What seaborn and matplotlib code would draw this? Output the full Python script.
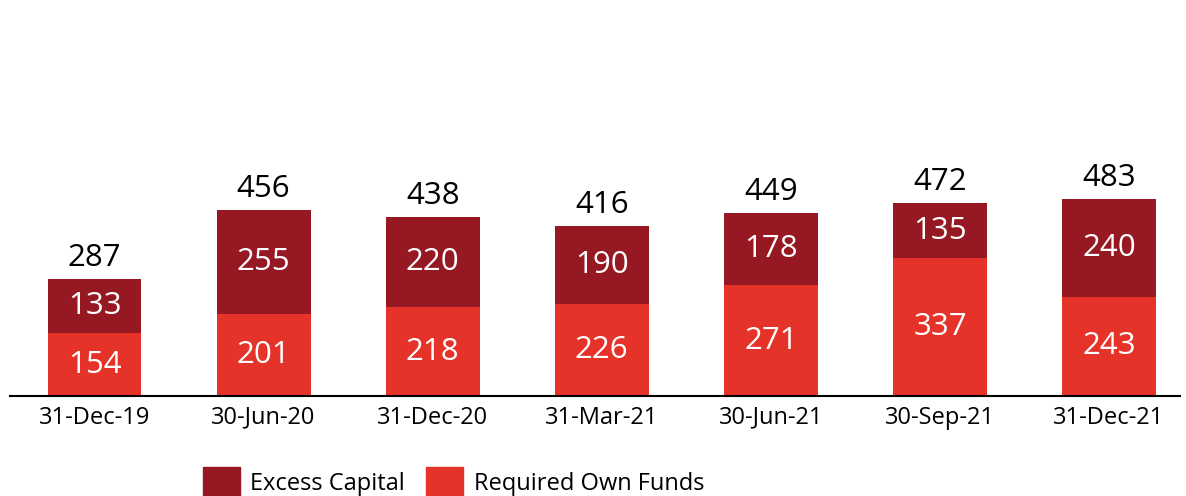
import seaborn as sns
import pandas as pd
import numpy as np
import matplotlib.pyplot as plt
from matplotlib.patches import Patch

dates = ['31-Dec-19', '30-Jun-20', '31-Dec-20', '31-Mar-21', '30-Jun-21', '30-Sep-21', '31-Dec-21']
required = [154, 201, 218, 226, 271, 337, 243]
excess = [133, 255, 220, 190, 178, 135, 240]
totals = [287, 456, 438, 416, 449, 472, 483]

c_exc = '#961822'
c_req = '#E5332A'

df = pd.DataFrame({'date': dates, 'required': required, 'excess': excess, 'total': totals})

sns.set_style('white')
plt.rcParams['font.family'] = ['Open Sans', 'DejaVu Sans']

fig = plt.figure(figsize=(11.86, 4.96), dpi=100)
ax = fig.add_axes([10 / 1186, 100 / 496, 1170 / 1186, 396 / 496])

# stacked look: full total in dark red, required drawn over it
sns.barplot(data=df, x='date', y='total', color=c_exc, width=0.555, saturation=1,
            linewidth=0, ax=ax)
sns.barplot(data=df, x='date', y='required', color=c_req, width=0.555, saturation=1,
            linewidth=0, ax=ax)

for i, r in df.iterrows():
    ax.text(i, r['required'] / 2, str(r['required']), ha='center', va='center',
            color='white', fontsize=22.5)
    ax.text(i, r['required'] + r['excess'] / 2, str(r['excess']), ha='center', va='center',
            color='white', fontsize=22.5)
    ax.text(i, r['total'] + 15, str(r['total']), ha='center', va='bottom',
            color='black', fontsize=22.5)

ax.set_xlim(-0.5, 6.42)
ax.set_ylim(0, 970)
ax.set_xlabel('')
ax.set_ylabel('')
ax.set_yticks([])
ax.tick_params(axis='x', length=0, labelsize=17, labelcolor='black', pad=7)
for s in ['top', 'right', 'left']:
    ax.spines[s].set_visible(False)
ax.spines['bottom'].set_color('black')
ax.spines['bottom'].set_linewidth(1.5)

handles = [Patch(color=c_exc, label='Excess Capital'), Patch(color=c_req, label='Required Own Funds')]
leg = fig.legend(handles=handles, loc='center left', bbox_to_anchor=(182 / 1186, 14 / 496), ncol=2,
                 frameon=False, fontsize=17, handlelength=1.55, handleheight=1.6, columnspacing=0.9,
                 handletextpad=0.45)
for t in leg.get_texts():
    t.set_color('black')

plt.savefig('out.png', dpi=100)
plt.close('all')
